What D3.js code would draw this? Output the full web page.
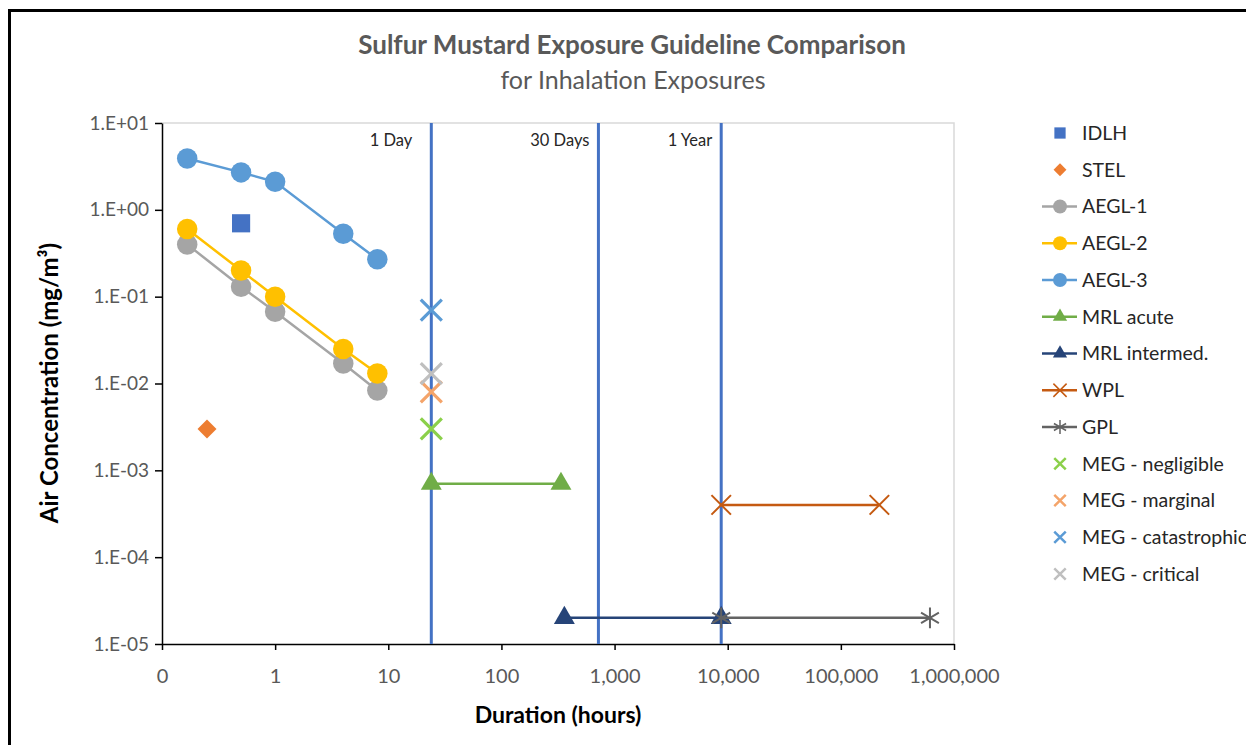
<!DOCTYPE html>
<html>
<head>
<meta charset="utf-8">
<script src="https://cdn.jsdelivr.net/npm/d3@7"></script>
<style>
  html, body { margin: 0; padding: 0; background: #fff; }
  svg { display: block; font-family: Lato, "Open Sans", sans-serif; }
</style>
</head>
<body>
<svg id="chart"></svg>
<script>
// durations in hours, concentrations in mg/m3
var aeglHours = [0.167, 0.5, 1, 4, 8];
var aegl1 = [0.40, 0.13, 0.067, 0.017, 0.0083];
var aegl2 = [0.60, 0.20, 0.10, 0.025, 0.013];
var aegl3 = [3.9, 2.7, 2.1, 0.53, 0.27];
var idlh = [{h: 0.5, c: 0.7}];
var stel = [{h: 0.25, c: 0.003}];
var mrlAcute = [{h: 24, c: 0.0007}, {h: 336, c: 0.0007}];
var mrlInter = [{h: 360, c: 0.00002}, {h: 8760, c: 0.00002}];
var wpl = [{h: 8760, c: 0.0004}, {h: 219000, c: 0.0004}];
var gpl = [{h: 8760, c: 0.00002}, {h: 613200, c: 0.00002}];
var megNegligible = [{h: 24, c: 0.003}];
var megMarginal = [{h: 24, c: 0.008}];
var megCatastrophic = [{h: 24, c: 0.07}];
var megCritical = [{h: 24, c: 0.013}];
var refLines = [{h: 24, label: "1 Day"}, {h: 720, label: "30 Days"}, {h: 8760, label: "1 Year"}];

var xTicks = [0.1, 1, 10, 100, 1000, 10000, 100000, 1000000];
var xTickLabels = ["0", "1", "10", "100", "1,000", "10,000", "100,000", "1,000,000"];
var yTicks = [1e-5, 1e-4, 1e-3, 1e-2, 1e-1, 1, 10];
var yTickLabels = ["1.E-05", "1.E-04", "1.E-03", "1.E-02", "1.E-01", "1.E+00", "1.E+01"];

var toPts = (hs, cs) => hs.map((h, i) => ({h: h, c: cs[i]}));

var series = [
  {name: "IDLH", data: idlh, color: "#4472C4", sym: "square", line: false},
  {name: "STEL", data: stel, color: "#ED7D31", sym: "diamond", line: false},
  {name: "AEGL-1", data: toPts(aeglHours, aegl1), color: "#A5A5A5", sym: "circle", line: true},
  {name: "AEGL-2", data: toPts(aeglHours, aegl2), color: "#FFC000", sym: "circle", line: true},
  {name: "AEGL-3", data: toPts(aeglHours, aegl3), color: "#5B9BD5", sym: "circle", line: true},
  {name: "MRL acute", data: mrlAcute, color: "#70AD47", sym: "triangle", line: true},
  {name: "MRL intermed.", data: mrlInter, color: "#264478", sym: "triangle", line: true},
  {name: "WPL", data: wpl, color: "#C55A11", sym: "x", line: true},
  {name: "GPL", data: gpl, color: "#636363", sym: "asterisk", line: true},
  {name: "MEG - negligible", data: megNegligible, color: "#8BD04A", sym: "xbold", line: false},
  {name: "MEG - marginal", data: megMarginal, color: "#F4A46A", sym: "xbold", line: false},
  {name: "MEG - catastrophic", data: megCatastrophic, color: "#5B9BD5", sym: "xbold", line: false},
  {name: "MEG - critical", data: megCritical, color: "#BFBFBF", sym: "xbold", line: false}
];

var W = 1246, H = 745;
var plot = {left: 162, right: 954, top: 123, bottom: 644};

var svg = d3.select("#chart").attr("width", W).attr("height", H);

// outer frame
svg.append("rect").attr("x", 9.5).attr("y", 10.5).attr("width", W).attr("height", H)
  .attr("fill", "#fff").attr("stroke", "#000").attr("stroke-width", 3);

var x = d3.scaleLog().domain([0.1, 1000000]).range([plot.left, plot.right]);
var y = d3.scaleLog().domain([1e-5, 10]).range([plot.bottom, plot.top]);

// plot border (top/right)
svg.append("path")
  .attr("d", "M" + plot.left + "," + plot.top + "H" + plot.right + "V" + plot.bottom)
  .attr("fill", "none").attr("stroke", "#D9D9D9").attr("stroke-width", 1.5);

// titles
svg.append("text").attr("x", 632).attr("y", 54).attr("text-anchor", "middle")
  .attr("font-size", 26).attr("font-weight", "bold").attr("fill", "#595959")
  .text("Sulfur Mustard Exposure Guideline Comparison");
svg.append("text").attr("x", 633).attr("y", 89).attr("text-anchor", "middle")
  .attr("font-size", 25).attr("fill", "#595959")
  .text("for Inhalation Exposures");

// axes
var xAxis = d3.axisBottom(x).tickValues(xTicks)
  .tickFormat((d, i) => xTickLabels[i]).tickSizeOuter(0).tickSizeInner(6).tickPadding(19);
var yAxis = d3.axisLeft(y).tickValues(yTicks)
  .tickFormat((d, i) => yTickLabels[i]).tickSizeOuter(0).tickSizeInner(7).tickPadding(6);

var gx = svg.append("g").attr("transform", "translate(0," + plot.bottom + ")").call(xAxis);
var gy = svg.append("g").attr("transform", "translate(" + plot.left + ",0)").call(yAxis);
[gx, gy].forEach(g => {
  g.select(".domain").attr("stroke", "#000").attr("stroke-width", 1.5);
  g.selectAll(".tick line").attr("stroke", "#000").attr("stroke-width", 1.5);
  g.selectAll(".tick text").attr("font-size", 20).attr("fill", "#595959")
    .attr("font-family", "Lato, 'Open Sans', sans-serif");
});
gy.selectAll(".tick text").attr("font-size", 19);

svg.append("text").attr("x", 558).attr("y", 723).attr("text-anchor", "middle")
  .attr("font-size", 23).attr("font-weight", "bold").attr("fill", "#000")
  .text("Duration (hours)");
svg.append("text").attr("transform", "translate(58,383) rotate(-90)").attr("text-anchor", "middle")
  .attr("font-size", 24).attr("font-weight", "bold").attr("fill", "#000")
  .text("Air Concentration (mg/m³)");

// reference duration lines
var labelDx = {"1 Day": -19};
svg.append("g").selectAll("line").data(refLines).enter().append("line")
  .attr("x1", d => x(d.h)).attr("x2", d => x(d.h))
  .attr("y1", plot.top).attr("y2", plot.bottom)
  .attr("stroke", "#4472C4").attr("stroke-width", 3);
svg.append("g").selectAll("text").data(refLines).enter().append("text")
  .attr("x", d => x(d.h) + (labelDx[d.label] || -9)).attr("y", 146)
  .attr("text-anchor", "end").attr("font-size", 16.5).attr("fill", "#262626")
  .text(d => d.label);

// marker paths
function markerPath(sym, scale) {
  var s = scale || 1;
  switch (sym) {
    case "circle": return d3.symbol(d3.symbolCircle, 330 * s * s)();
    case "square": return d3.symbol(d3.symbolSquare, 330 * s * s)();
    case "diamond": return d3.symbol(d3.symbolSquare, 180 * s * s)();
    case "triangle": return d3.symbol(d3.symbolTriangle, 190 * s * s)();
    case "x": return d3.symbol(d3.symbolX, 250 * s * s)();
    case "xbold": return d3.symbol(d3.symbolX, 290 * s * s)();
    case "asterisk": return d3.symbol(d3.symbolAsterisk, 300 * s * s)();
  }
}
function styleMarker(sel, d) {
  var stroked = d.sym === "x" || d.sym === "xbold" || d.sym === "asterisk";
  sel.attr("fill", stroked ? "none" : d.color)
    .attr("stroke", stroked ? d.color : "none")
    .attr("stroke-width", d.sym === "xbold" ? 3.2 : 2);
}

var lineGen = d3.line().x(p => x(p.h)).y(p => y(p.c));

var sg = svg.append("g").selectAll("g").data(series).enter().append("g");
sg.filter(d => d.line).append("path")
  .attr("d", d => lineGen(d.data))
  .attr("fill", "none").attr("stroke", d => d.color).attr("stroke-width", 2.5);
sg.each(function(d) {
  d3.select(this).selectAll(".pt").data(d.data).enter().append("path")
    .attr("class", "pt")
    .attr("d", markerPath(d.sym))
    .attr("transform", p => "translate(" + x(p.h) + "," + y(p.c) + ")" + (d.sym === "diamond" ? " rotate(45)" : ""))
    .call(styleMarker, d);
});

// legend
var lg = svg.append("g").attr("transform", "translate(1060,133)");
var li = lg.selectAll("g").data(series).enter().append("g")
  .attr("transform", (d, i) => "translate(0," + (i * 36.75) + ")");
li.filter(d => d.line).append("line")
  .attr("x1", -18).attr("x2", 17).attr("y1", 0).attr("y2", 0)
  .attr("stroke", d => d.color).attr("stroke-width", 2.5);
li.append("path")
  .attr("d", d => markerPath(d.sym, d.sym === "square" ? 0.62 : (d.sym === "xbold" ? 0.55 : 0.68)))
  .attr("transform", d => d.sym === "diamond" ? "rotate(45)" : null)
  .each(function(d) { d3.select(this).call(styleMarker, d); })
  .attr("stroke-width", d => d.sym === "xbold" ? 2.5 : 1.5);
li.append("text").attr("x", 22).attr("dy", "0.35em")
  .attr("font-size", 19.5).attr("fill", "#262626")
  .text(d => d.name);
</script>
</body>
</html>
